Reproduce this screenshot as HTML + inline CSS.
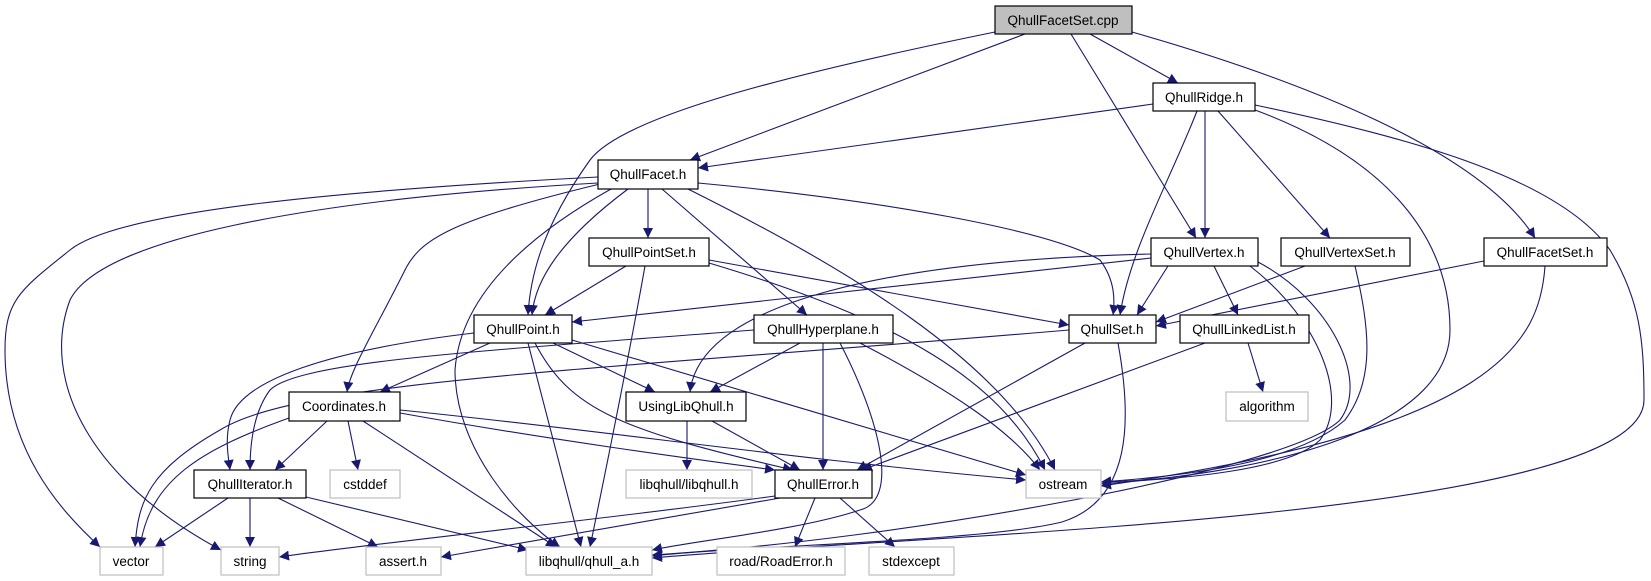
<!DOCTYPE html>
<html><head><meta charset="utf-8"><style>
html,body{margin:0;padding:0;background:#fff;}
svg{display:block;}
text{font-family:"Liberation Sans",sans-serif;font-size:13.5px;fill:#000;text-anchor:middle;}
.e{fill:none;stroke:#191970;stroke-width:1.1;marker-end:url(#a);}
.n{fill:#fff;stroke:#000;stroke-width:1.2;}
.g{fill:#fff;stroke:#bfbfbf;stroke-width:1.2;}
</style></head><body>
<svg width="1651" height="581" viewBox="0 0 1651 581" xmlns="http://www.w3.org/2000/svg">
<defs><marker id="a" viewBox="0 0 10 10" refX="10" refY="5" markerWidth="10" markerHeight="10" markerUnits="userSpaceOnUse" orient="auto"><path d="M0,0 L10,5 L0,10 z" fill="#191970"/></marker></defs>
<g>
<path class="e" d="M1025,34 L690,160"/>
<path class="e" d="M995,32 C760,80 620,120 590,160 C540,230 530,280 528,315"/>
<path class="e" d="M1090,34 L1178,83"/>
<path class="e" d="M1071,34 L1196,238"/>
<path class="e" d="M1132,32 C1300,80 1480,150 1535,238"/>
<path class="e" d="M1153,104 L698,168"/>
<path class="e" d="M1205,111 L1205,238"/>
<path class="e" d="M1197,111 C1170,180 1130,250 1120,315"/>
<path class="e" d="M1218,111 L1330,238"/>
<path class="e" d="M1255,110 C1390,160 1450,240 1450,330 C1450,420 1300,470 1101,484"/>
<path class="e" d="M1255,105 C1420,140 1560,180 1610,250 C1640,300 1644,340 1644,400 C1644,520 900,535 652,558"/>
<path class="e" d="M598,177 C350,190 120,210 70,250 C20,290 5,300 5,350 C5,450 60,510 100,547"/>
<path class="e" d="M598,183 C300,200 100,240 70,300 C40,380 90,480 221,550"/>
<path class="e" d="M600,184 C450,220 420,240 405,270 C375,330 350,370 347,392"/>
<path class="e" d="M611,189 C520,240 460,300 455,370 C455,450 520,520 560,547"/>
<path class="e" d="M628,189 C560,240 535,280 532,315"/>
<path class="e" d="M648,189 L648,238"/>
<path class="e" d="M662,189 L807,315"/>
<path class="e" d="M688,189 C850,270 1000,360 1055,470"/>
<path class="e" d="M698,183 C880,200 1050,230 1100,260 C1115,280 1115,300 1113,315"/>
<path class="e" d="M626,266 L545,315"/>
<path class="e" d="M645,266 C630,350 610,450 590,547"/>
<path class="e" d="M709,260 L1069,325"/>
<path class="e" d="M709,263 C900,320 1000,380 1045,470"/>
<path class="e" d="M1151,258 L572,322"/>
<path class="e" d="M1151,254 C900,260 700,300 690,392"/>
<path class="e" d="M1168,266 L1137,315"/>
<path class="e" d="M1214,266 L1238,315"/>
<path class="e" d="M1250,266 C1320,320 1350,400 1320,440 C1290,470 1180,480 1101,482"/>
<path class="e" d="M1258,262 C1330,300 1370,380 1340,420 C1290,470 900,540 652,555"/>
<path class="e" d="M1305,266 L1156,322"/>
<path class="e" d="M1355,266 C1370,330 1375,380 1345,420 C1300,460 1200,475 1101,482"/>
<path class="e" d="M1484,261 L1156,326"/>
<path class="e" d="M1545,266 C1540,340 1500,430 1101,486"/>
<path class="e" d="M474,333 C330,350 240,380 230,420 C225,440 228,455 230,470"/>
<path class="e" d="M490,343 L380,392"/>
<path class="e" d="M553,343 L655,392"/>
<path class="e" d="M535,343 C570,410 620,430 793,470"/>
<path class="e" d="M528,343 L581,547"/>
<path class="e" d="M572,340 L1026,475"/>
<path class="e" d="M754,330 C500,350 300,360 270,390 C255,410 250,440 250,470"/>
<path class="e" d="M800,343 L710,392"/>
<path class="e" d="M823,343 L823,470"/>
<path class="e" d="M860,343 C950,390 1010,430 1040,470"/>
<path class="e" d="M840,343 C880,420 900,500 860,510 C800,530 700,540 652,550"/>
<path class="e" d="M1069,330 C600,370 300,380 220,430 C150,470 138,500 135,547"/>
<path class="e" d="M1085,343 L857,470"/>
<path class="e" d="M1118,343 C1132,420 1132,500 1062,522 C980,542 750,545 652,556"/>
<path class="e" d="M1248,343 L1263,392"/>
<path class="e" d="M1205,343 L862,470"/>
<path class="e" d="M327,421 L275,470"/>
<path class="e" d="M348,421 L358,470"/>
<path class="e" d="M289,418 C200,450 150,480 140,547"/>
<path class="e" d="M363,421 L556,547"/>
<path class="e" d="M400,413 C550,440 700,460 775,470"/>
<path class="e" d="M400,410 C600,430 800,460 1026,480"/>
<path class="e" d="M687,421 L687,470"/>
<path class="e" d="M712,421 L800,470"/>
<path class="e" d="M228,498 L155,547"/>
<path class="e" d="M250,498 L250,547"/>
<path class="e" d="M278,498 L378,547"/>
<path class="e" d="M306,497 L528,550"/>
<path class="e" d="M775,496 C600,520 400,540 279,557"/>
<path class="e" d="M780,498 L441,557"/>
<path class="e" d="M815,498 L795,547"/>
<path class="e" d="M840,498 L895,547"/>
</g>
<g>
<rect x="995" y="6" width="137" height="28" fill="#bfbfbf" stroke="#000" stroke-width="1.2"/><text x="1063" y="25">QhullFacetSet.cpp</text>
<rect class="n" x="1153" y="83" width="102" height="28"/><text x="1204" y="102">QhullRidge.h</text>
<rect class="n" x="598" y="160" width="100" height="29"/><text x="648" y="179">QhullFacet.h</text>
<rect class="n" x="589" y="238" width="120" height="28"/><text x="649" y="257">QhullPointSet.h</text>
<rect class="n" x="1151" y="238" width="107" height="28"/><text x="1204" y="257">QhullVertex.h</text>
<rect class="n" x="1281" y="238" width="129" height="28"/><text x="1345" y="257">QhullVertexSet.h</text>
<rect class="n" x="1484" y="238" width="123" height="28"/><text x="1545" y="257">QhullFacetSet.h</text>
<rect class="n" x="474" y="315" width="98" height="28"/><text x="523" y="334">QhullPoint.h</text>
<rect class="n" x="754" y="315" width="139" height="28"/><text x="823" y="334">QhullHyperplane.h</text>
<rect class="n" x="1069" y="315" width="87" height="28"/><text x="1112" y="334">QhullSet.h</text>
<rect class="n" x="1180" y="315" width="129" height="28"/><text x="1244" y="334">QhullLinkedList.h</text>
<rect class="n" x="289" y="392" width="111" height="29"/><text x="344" y="411">Coordinates.h</text>
<rect class="n" x="626" y="392" width="120" height="29"/><text x="686" y="411">UsingLibQhull.h</text>
<rect class="g" x="1226" y="392" width="82" height="29"/><text x="1267" y="411">algorithm</text>
<rect class="n" x="194" y="470" width="112" height="28"/><text x="250" y="489">QhullIterator.h</text>
<rect class="g" x="330" y="470" width="70" height="28"/><text x="365" y="489">cstddef</text>
<rect class="g" x="626" y="470" width="126" height="28"/><text x="689" y="489">libqhull/libqhull.h</text>
<rect class="n" x="775" y="470" width="97" height="28"/><text x="823" y="489">QhullError.h</text>
<rect class="g" x="1026" y="470" width="75" height="28"/><text x="1063" y="489">ostream</text>
<rect class="g" x="100" y="547" width="63" height="28"/><text x="131" y="566">vector</text>
<rect class="g" x="221" y="547" width="58" height="28"/><text x="250" y="566">string</text>
<rect class="g" x="366" y="547" width="75" height="28"/><text x="403" y="566">assert.h</text>
<rect class="g" x="526" y="547" width="126" height="28"/><text x="589" y="566">libqhull/qhull_a.h</text>
<rect class="g" x="717" y="547" width="128" height="28"/><text x="781" y="566">road/RoadError.h</text>
<rect class="g" x="869" y="547" width="85" height="28"/><text x="911" y="566">stdexcept</text>
</g>
</svg>
</body></html>
